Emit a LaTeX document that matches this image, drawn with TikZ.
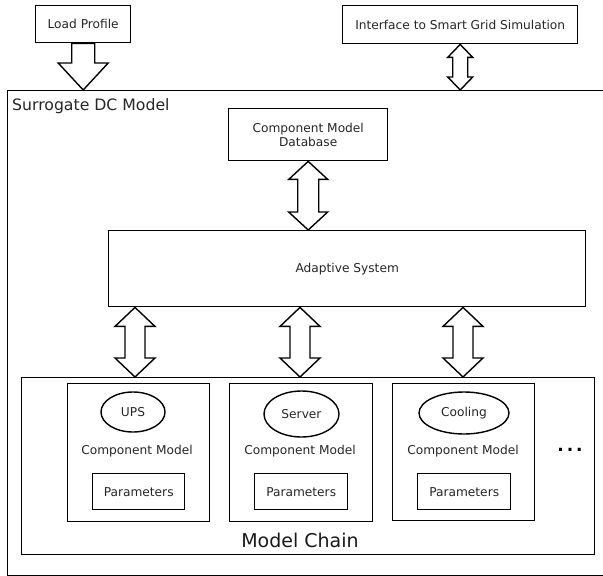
\documentclass[tikz,border=0pt]{standalone}
\usepackage{fontspec}
\setmainfont{DejaVu Sans}
\usetikzlibrary{calc,shapes.geometric}

% hollow block arrows between two points on one vertical line
% #1 top point, #2 bottom point, #3 shaft half width, #4 head half width, #5 head length
\newcommand\dblblock[5]{%
  \draw[blockline] let \p1=(#1), \p2=(#2) in
    (\x1,\y1) -- (\x1+#4,\y1-#5) -- (\x1+#3,\y1-#5) -- (\x1+#3,\y2+#5)
    -- (\x1+#4,\y2+#5) -- (\x1,\y2) -- (\x1-#4,\y2+#5) -- (\x1-#3,\y2+#5)
    -- (\x1-#3,\y1-#5) -- (\x1-#4,\y1-#5) -- cycle;}
\newcommand\downblock[5]{%
  \draw[blockline] let \p1=(#1), \p2=(#2) in
    (\x1-#3,\y1) -- (\x1+#3,\y1) -- (\x1+#3,\y2+#5) -- (\x1+#4,\y2+#5)
    -- (\x1,\y2) -- (\x1-#4,\y2+#5) -- (\x1-#3,\y2+#5) -- cycle;}

\tikzset{
  boxnode/.style={draw, line width=1.4pt, inner sep=0pt, anchor=north west,
    font=\fontsize{12.2}{14.5}\selectfont, text=black!85, align=center},
  oval/.style={draw, ellipse, line width=1.4pt, inner sep=0pt,
    font=\fontsize{12.2}{14.5}\selectfont, text=black!85},
  label/.style={inner sep=0pt, font=\fontsize{12.2}{14.5}\selectfont, text=black!85},
  blockline/.style={draw, line width=1.4pt, fill=white, line join=miter},
}

\begin{document}
\begin{tikzpicture}[x=1pt, y=-1pt]
\useasboundingbox (0,0) rectangle (603,576);
\clip (0,0) rectangle (603,576);
\fill[white] (0,0) rectangle (603,576);

% top-level inputs
\node[boxnode, minimum width=95pt, minimum height=37pt] (load) at (35,5) {Load Profile};
\node[boxnode, minimum width=235pt, minimum height=38pt] (iface) at (342,5) {Interface to Smart Grid Simulation};

% surrogate model frame (runs past the right edge)
\node[boxnode, minimum width=620pt, minimum height=485pt] (outer) at (6.5,90) {};
\node[anchor=west, inner sep=0pt, font=\fontsize{15.7}{18}\selectfont, text=black!85] (title) at (12,106) {Surrogate DC Model};

% database and adaptive system
\node[boxnode, minimum width=159pt, minimum height=52pt] (db) at (228,108) {Component Model\\[-1pt]Database};
\node[boxnode, minimum width=477pt, minimum height=76pt] (adapt) at (108,230) {Adaptive System};

% model chain
\node[boxnode, minimum width=573pt, minimum height=177pt] (chain) at (21,377) {};
\node[inner sep=0pt, font=\fontsize{19}{22}\selectfont, text=black!90] (chainlbl) at (300,540) {Model Chain};

\node[boxnode, minimum width=142pt, minimum height=138pt] (upsbox) at (67,383) {};
\node[boxnode, minimum width=143pt, minimum height=138pt] (srvbox) at (229,383) {};
\node[boxnode, minimum width=142pt, minimum height=137pt] (coolbox) at (392,383) {};

\node[oval, minimum width=64pt, minimum height=40pt] (ups) at (133,412) {UPS};
\node[oval, minimum width=75pt, minimum height=46pt] (srv) at (301.5,414) {Server};
\node[oval, minimum width=90pt, minimum height=42pt] (cool) at (464,413) {Cooling};

\node[label] (upscm) at (137,451) {Component Model};
\node[label] (srvcm) at (300,451) {Component Model};
\node[label] (coolcm) at (463,451) {Component Model};

\node[boxnode, minimum width=92pt, minimum height=36pt] (upspar) at (92,473) {Parameters};
\node[boxnode, minimum width=93pt, minimum height=36pt] (srvpar) at (254,473) {Parameters};
\node[boxnode, minimum width=93pt, minimum height=36pt] (coolpar) at (417,473) {Parameters};

\node[inner sep=0pt, font=\fontsize{17}{20}\selectfont\bfseries] (more) at (570,450) {.\,.\,.};

% block arrows
\coordinate (loadtop) at (load.south);
\coordinate (loadtip) at (load.south |- outer.north);
\downblock{loadtop}{loadtip}{11.5pt}{25pt}{27pt}

\coordinate (ifacetop) at (iface.south);
\coordinate (ifacebot) at (iface.south |- outer.north);
\dblblock{ifacetop}{ifacebot}{7.5pt}{12.5pt}{13pt}

\coordinate (dbtop) at (db.south);
\coordinate (dbbot) at (db.south |- adapt.north);
\dblblock{dbtop}{dbbot}{10.5pt}{19.5pt}{18pt}

\coordinate (a1) at (135,0 |- adapt.south);
\coordinate (b1) at (135,0 |- chain.north);
\dblblock{a1}{b1}{10pt}{20pt}{19pt}
\coordinate (a2) at (300,0 |- adapt.south);
\coordinate (b2) at (300,0 |- chain.north);
\dblblock{a2}{b2}{10pt}{20pt}{19pt}
\coordinate (a3) at (463,0 |- adapt.south);
\coordinate (b3) at (463,0 |- chain.north);
\dblblock{a3}{b3}{10pt}{20pt}{19pt}
\end{tikzpicture}
\end{document}
